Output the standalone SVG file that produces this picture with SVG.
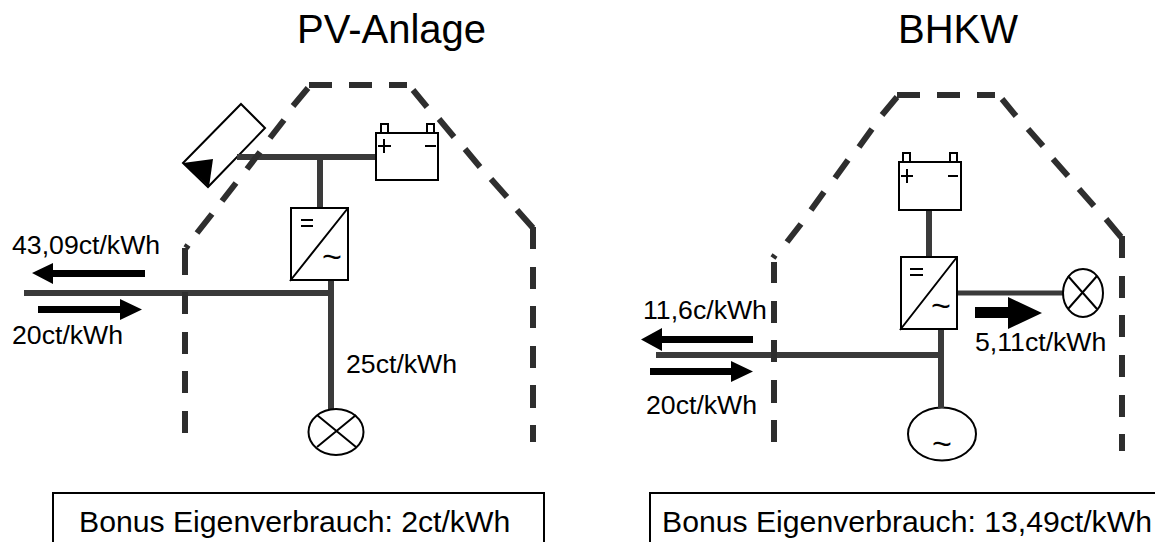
<svg xmlns="http://www.w3.org/2000/svg" width="1155" height="542" viewBox="0 0 1155 542">
<style>
text{font-family:"Liberation Sans",Arial,sans-serif;fill:#000}
.t{font-size:40px}
.l{font-size:26.67px}
.b{font-size:30.2px}
.sym{font-size:34px}
.wire{fill:none;stroke:#3a3a3a;stroke-width:6}
.dash{fill:none;stroke:#2e2e2e;stroke-width:6}
.box{fill:#fff;stroke:#000;stroke-width:2}
.ln{fill:none;stroke:#000;stroke-width:2}
.lb{fill:#fff;stroke:#000;stroke-width:2}
</style>
<rect width="1155" height="542" fill="#fff"/>
<text class="t" x="297" y="43">PV-Anlage</text>
<text class="t" x="898" y="43">BHKW</text>
<g id="pv-panel">
<path class="box" d="M241 104L265 128L208 187L183 163Z"/>
<path fill="#000" d="M183 163L213 159L209 187Z"/>
</g>
<g id="chp-generator">
<ellipse class="box" cx="942" cy="434" rx="34" ry="26.500"/>
<text class="sym" x="932" y="455">~</text>
</g>
<g id="connectors">
<path class="wire" d="M237 157H376M320 157V208"/>
<path class="wire" d="M24 293H334"/>
<path class="wire" d="M331 280V410"/>
<path class="wire" d="M929 210V257"/>
<path class="wire" d="M957 293H1064" style="stroke-width:5"/>
<path class="wire" d="M656 355H942"/>
<path class="wire" d="M941 329V408"/>
<path class="dash" d="M185 433V411M185 393V371M185 354V332M185 314V292M185 275V248M186 248L188 245M197 233L212 214M222 201L236 183M247 169L260 152M270 138L284 120M293 106L308 88M309 85H332M349 85H372M389 85H407M413 90L427 107M439 119L454 137M465 149L480 167M491 179L507 197M517 210L533 228M533 227V249M533 267V289M533 306V328M533 346V368M533 385V408M533 425V442"/>
<path class="dash" d="M774 442V420M774 403V380M774 362V340M774 323V301M774 283V262M773 258L775 255M787 242L801 224M811 210L824 192M835 178L848 160M859 147L872 129M882 115L897 97M897 95H920M937 95H960M977 95H995M1002 99L1016 116M1028 129L1043 146M1053 159L1068 176M1079 189L1094 206M1106 219L1121 237M1122 236V258M1122 276V298M1122 315V337M1122 355V377M1122 395V417M1122 434V451"/>
</g>
<g id="pv-battery">
<rect class="box" x="381" y="124" width="7" height="9"/><rect class="box" x="427" y="124" width="7" height="9"/>
<rect class="box" x="376" y="133" width="62" height="47"/>
<path class="ln" d="M384 139V153M378 146H391M425 146H436"/>
</g>
<g id="pv-inverter">
<rect class="box" x="291" y="208" width="57" height="72"/>
<path class="ln" d="M290 281L348 208M301 220H313M301 226H313"/>
<text class="sym" x="322" y="268">~</text>
</g>
<g id="pv-lamp">
<ellipse class="box" cx="336" cy="432" rx="27.500" ry="23"/>
<path class="ln" d="M317 415L356 447M356 415L317 447"/>
</g>
<g id="pv-labels">
<text class="l" x="12" y="254">43,09ct/kWh</text>
<text class="l" x="12" y="344">20ct/kWh</text>
<text class="l" x="346" y="373">25ct/kWh</text>
<path fill="#000" d="M145 270V277H53V284L32 273L53 263V270Z"/>
<path fill="#000" d="M38 306H120V299L142 309.500L120 320V313H38Z"/>
</g>
<g id="pv-bonus">
<rect class="lb" x="53" y="493" width="491" height="60"/>
<text class="b" x="79" y="532">Bonus Eigenverbrauch: 2ct/kWh</text>
</g>
<g id="chp-battery">
<rect class="box" x="903" y="153" width="7" height="9"/><rect class="box" x="950" y="153" width="7" height="9"/>
<rect class="box" x="899" y="162" width="62" height="48"/>
<path class="ln" d="M907 169V183M901 176H913M948 176H958"/>
</g>
<g id="chp-inverter">
<rect class="box" x="901" y="257" width="56" height="72"/>
<path class="ln" d="M900 330L957 257M910 269H923M910 275H923"/>
<text class="sym" x="931" y="317">~</text>
</g>
<g id="chp-lamp">
<ellipse class="box" cx="1083" cy="293" rx="20" ry="24"/>
<path class="ln" d="M1068 276L1097 309M1097 276L1068 309"/>
</g>
<g id="chp-labels">
<text class="l" x="643" y="319">11,6c/kWh</text>
<text class="l" x="646" y="414">20ct/kWh</text>
<text class="l" x="975" y="351">5,11ct/kWh</text>
<path fill="#000" d="M753 336V343H662V351L641 339.500L662 328V336Z"/>
<path fill="#000" d="M650 368H731V361L753 371.500L731 382V375H650Z"/>
<path fill="#000" d="M975 307H1008V297L1042 313L1008 329V318H975Z"/>
</g>
<g id="chp-bonus">
<rect class="lb" x="650" y="493" width="520" height="60"/>
<text class="b" x="662" y="532">Bonus Eigenverbrauch: 13,49ct/kWh</text>
</g>
</svg>
